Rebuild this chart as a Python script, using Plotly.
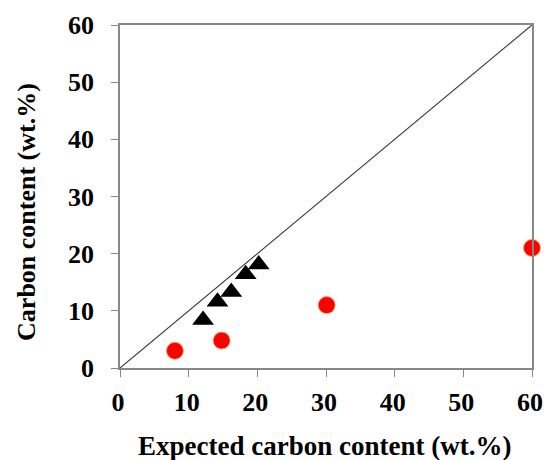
import plotly.graph_objects as go

circle_x = [8.0, 14.8, 30.1, 60.0]
circle_y = [3.0, 4.8, 11.0, 21.0]
tri_x = [12.1, 14.2, 16.2, 18.3, 20.2]
tri_y = [8.4, 11.6, 13.3, 16.4, 18.1]
ident = [0, 60]
tick_vals = [0, 10, 20, 30, 40, 50, 60]
x_title = "Expected carbon content (wt.%)"
y_title = "Carbon content (wt.%)"

fig = go.Figure()
fig.add_trace(go.Scatter(x=ident, y=ident, mode="lines",
                         line=dict(color="#404040", width=1.2), showlegend=False,
                         hoverinfo="skip"))
fig.add_trace(go.Scatter(x=tri_x, y=tri_y, mode="markers",
                         marker=dict(symbol="triangle-up", size=19, color="black"),
                         showlegend=False, cliponaxis=False))
fig.add_trace(go.Scatter(x=circle_x, y=circle_y, mode="markers",
                         marker=dict(symbol="circle", size=17, color="#ff0000",
                                     line=dict(color="#e8b060", width=0.8)),
                         showlegend=False, cliponaxis=False))

tickfont = dict(family="Liberation Serif", size=26, color="black", weight="bold")
axis_common = dict(range=[0, 60], tickvals=tick_vals, showgrid=False, zeroline=False,
                   showline=True, linecolor="#888888", linewidth=1.5, mirror=True,
                   ticks="outside", ticklen=7, tickcolor="#888888", tickwidth=1,
                   tickfont=tickfont, automargin=False, ticklabeloverflow="allow")
fig.update_layout(
    width=547, height=460,
    margin=dict(l=120, r=15, t=25, b=92),
    plot_bgcolor="white", paper_bgcolor="white",
    xaxis=dict(**axis_common),
    yaxis=dict(**axis_common),
    annotations=[
        dict(text="<b>" + x_title + "</b>", xref="paper", yref="paper", x=0.496, y=0,
             xanchor="center", yanchor="middle", yshift=-78, showarrow=False,
             font=dict(family="Liberation Serif", size=27, color="black")),
        dict(text="<b>" + y_title + "</b>", xref="paper", yref="paper", x=0, y=0.455,
             xanchor="center", yanchor="middle", xshift=-93, textangle=-90,
             showarrow=False,
             font=dict(family="Liberation Serif", size=26, color="black")),
    ],
)
fig.update_xaxes(ticklabelstandoff=3, ticklabelshift=-2)
fig.update_yaxes(ticklabelstandoff=12)
fig.write_html("out.html", config={"displayModeBar": False},
               post_script="document.body.style.margin='0';document.body.style.overflow='hidden';")
